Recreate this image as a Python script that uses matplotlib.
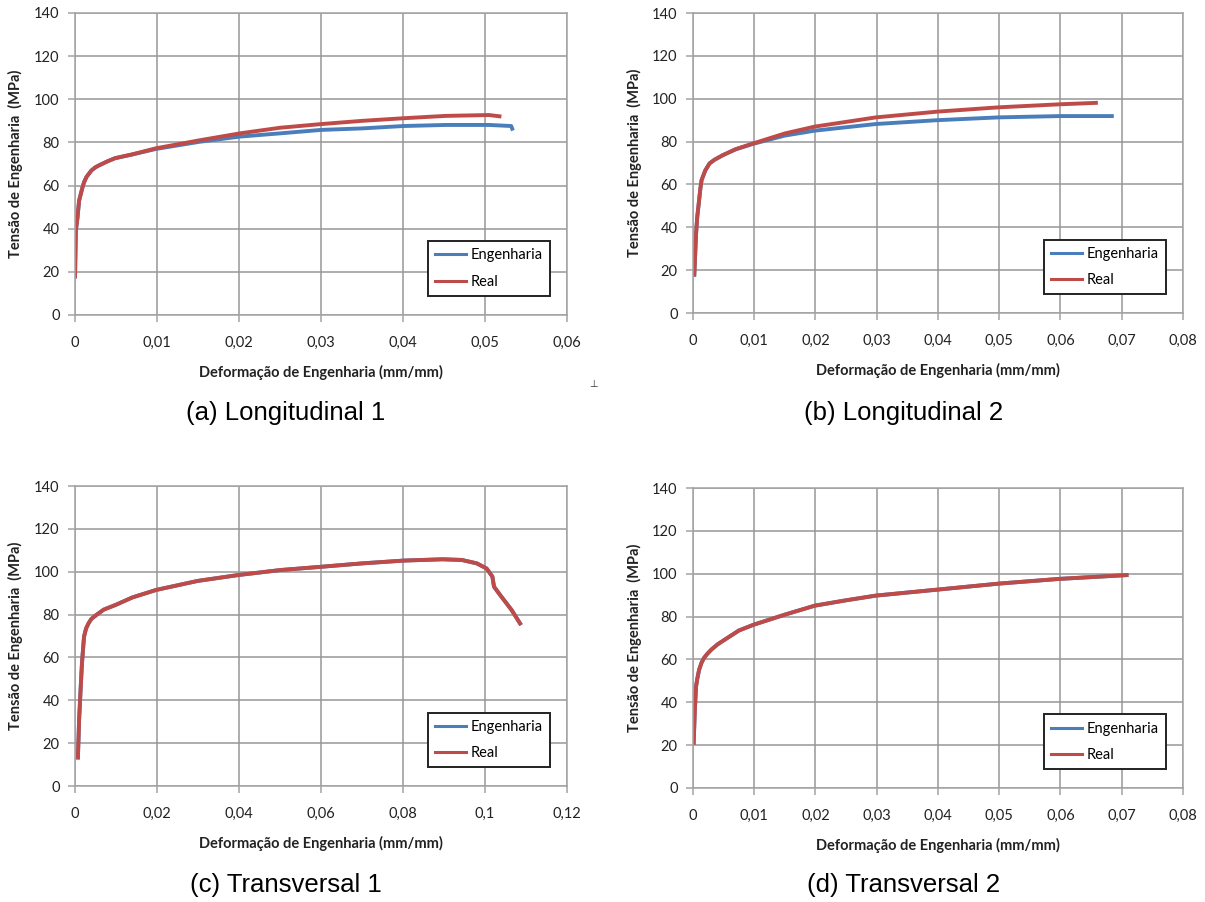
import matplotlib
matplotlib.use('Agg')
import matplotlib.pyplot as plt
from matplotlib.lines import Line2D

BLUE = '#4a7ebb'
RED = '#be4b48'

# ---- (a) Longitudinal 1 ----
a_real_x = [0, 0.0001, 0.0003, 0.0005, 0.0007, 0.0009, 0.0011, 0.0014, 0.002, 0.0025, 0.003,
            0.004, 0.0049, 0.007, 0.0099, 0.0152, 0.0201, 0.025, 0.030, 0.035, 0.040,
            0.0452, 0.0505, 0.052]
a_real_y = [17, 39, 45, 53, 56, 59, 61.5, 64, 67, 68.5, 69.5, 71.3, 72.7, 74.5, 77.3, 81,
            84.2, 86.8, 88.5, 90, 91.2, 92.3, 92.7, 92]
a_eng_x = [0, 0.0001, 0.0003, 0.0005, 0.0007, 0.0009, 0.0011, 0.0014, 0.002, 0.0025, 0.003,
           0.004, 0.0049, 0.007, 0.0099, 0.0152, 0.0201, 0.025, 0.030, 0.035, 0.040,
           0.0452, 0.0505, 0.0532, 0.0534]
a_eng_y = [17, 39, 45, 53, 56, 59, 61.5, 64, 67, 68.5, 69.5, 71.3, 72.7, 74.4, 77.0, 80.3,
           82.7, 84.2, 85.8, 86.5, 87.6, 88.1, 88.1, 87.6, 85.5]

# ---- (b) Longitudinal 2 ----
b_real_x = [0.0002, 0.0005, 0.0007, 0.001, 0.0012, 0.0014, 0.002, 0.0027, 0.0035, 0.0049,
            0.007, 0.0099, 0.015, 0.0199, 0.0299, 0.040, 0.050, 0.0599, 0.0661]
b_real_y = [17, 37, 45, 52.7, 58, 62, 66.5, 69.8, 71.5, 73.7, 76.5, 79.2, 83.8, 87, 91.3,
            94, 96, 97.4, 98.1]
b_eng_x = [0.0002, 0.0005, 0.0007, 0.001, 0.0012, 0.0014, 0.002, 0.0027, 0.0035, 0.0049,
           0.007, 0.0099, 0.015, 0.0199, 0.0299, 0.040, 0.050, 0.0599, 0.0687]
b_eng_y = [17, 37, 45, 52.7, 58, 62, 66.5, 69.8, 71.5, 73.7, 76.4, 79.0, 82.8, 85.1, 88.2,
           90, 91.3, 91.9, 91.9]

# ---- (c) Transversal 1 ----
c_x = [0.0007, 0.001, 0.0014, 0.0017, 0.0022, 0.0027, 0.0033, 0.004, 0.0052, 0.007, 0.0099,
       0.014, 0.0198, 0.0299, 0.040, 0.0502, 0.060, 0.0701, 0.0802, 0.0896, 0.0943, 0.098,
       0.1004, 0.1018, 0.1022, 0.1037, 0.1065, 0.1088]
c_y = [12.4, 30.8, 46.3, 57.3, 69.7, 73.5, 75.9, 78, 79.8, 82.3, 84.5, 88, 91.5, 95.7, 98.5,
       100.8, 102.3, 103.9, 105.2, 105.8, 105.5, 103.9, 101.5, 97.7, 93, 89.1, 82.1, 75.1]

# ---- (d) Transversal 2 ----
d_x = [0.0001, 0.0003, 0.0005, 0.0007, 0.001, 0.0014, 0.0018, 0.0023, 0.003, 0.004, 0.0056,
       0.0075, 0.0099, 0.015, 0.0199, 0.025, 0.0299, 0.040, 0.050, 0.0599, 0.0711]
d_y = [20.2, 36.5, 47.4, 51, 55.2, 58.5, 60.7, 62.5, 64.6, 67, 70, 73.5, 76.2, 80.9, 85.1,
       87.6, 89.8, 92.6, 95.4, 97.6, 99.4]

y_ticks = [0, 20, 40, 60, 80, 100, 120, 140]
x_ticks_a = [0, 0.01, 0.02, 0.03, 0.04, 0.05, 0.06]
x_labels_a = ['0', '0,01', '0,02', '0,03', '0,04', '0,05', '0,06']
x_ticks_b = [0, 0.01, 0.02, 0.03, 0.04, 0.05, 0.06, 0.07, 0.08]
x_labels_b = ['0', '0,01', '0,02', '0,03', '0,04', '0,05', '0,06', '0,07', '0,08']
x_ticks_c = [0, 0.02, 0.04, 0.06, 0.08, 0.1, 0.12]
x_labels_c = ['0', '0,02', '0,04', '0,06', '0,08', '0,1', '0,12']

captions = ['(a) Longitudinal 1', '(b) Longitudinal 2', '(c) Transversal 1', '(d) Transversal 2']

XLABEL = 'Deformação de Engenharia (mm/mm)'
YLABEL = 'Tensão de Engenharia  (MPa)'

plt.rcParams['font.family'] = ['Lato', 'DejaVu Sans']

fig = plt.figure(figsize=(12.05, 9.02), dpi=100)


def panel(rect, eng, real, xticks, xlabels):
    ax = fig.add_axes(rect)
    ax.plot(eng[0], eng[1], color=BLUE, lw=2.8, solid_capstyle='butt')
    ax.plot(real[0], real[1], color=RED, lw=2.8, solid_capstyle='butt')
    ax.set_xlim(xticks[0], xticks[-1])
    ax.set_ylim(0, 140)
    ax.set_xticks(xticks)
    ax.set_xticklabels(xlabels)
    ax.set_yticks(y_ticks)
    ax.grid(True, color='#979797', lw=1.1)
    ax.set_axisbelow(True)
    for s in ax.spines.values():
        s.set_color('#a3a3a3')
        s.set_linewidth(1.1)
    ax.tick_params(axis='x', length=5, width=1.1, color='#a3a3a3', pad=10,
                   labelsize=10.5, labelcolor='#222222')
    ax.tick_params(axis='y', length=5, width=1.1, color='#a3a3a3', pad=6,
                   labelsize=10.5, labelcolor='#222222')
    ax.set_xlabel(XLABEL, fontsize=10.5, fontweight='bold', color='#222222', va='center')
    ax.set_ylabel(YLABEL, fontsize=10.5, fontweight='bold', color='#222222', va='center')
    ax.xaxis.set_label_coords(0.5, -0.19)
    ax.yaxis.set_label_coords(-0.12, 0.5)
    handles = [Line2D([], [], color=BLUE, lw=2.2), Line2D([], [], color=RED, lw=2.2)]
    leg = ax.legend(handles, ['Engenharia', 'Real'], loc='upper right',
                    bbox_to_anchor=(0.965, 0.245), fontsize=10.5, borderpad=0.5,
                    labelspacing=0.85, handlelength=2.1, handletextpad=0.3,
                    fancybox=False, framealpha=1, borderaxespad=0)
    leg.get_frame().set_edgecolor('#222222')
    leg.get_frame().set_linewidth(1.4)
    return ax


panel([0.06224, 0.65078, 0.4083, 0.33481], (a_eng_x, a_eng_y), (a_real_x, a_real_y),
      x_ticks_a, x_labels_a)
panel([0.5751, 0.65299, 0.40664, 0.33259], (b_eng_x, b_eng_y), (b_real_x, b_real_y),
      x_ticks_b, x_labels_b)
panel([0.06224, 0.1286, 0.4083, 0.33259], (c_x, c_y), (c_x, c_y),
      x_ticks_c, x_labels_c)
panel([0.5751, 0.12639, 0.40664, 0.33259], (d_x, d_y), (d_x, d_y),
      x_ticks_b, x_labels_b)

cap_pos = [(286, 413), (904, 413), (286, 885), (904, 885)]
for (px, py), txt in zip(cap_pos, captions):
    fig.text(px / 1205, 1 - py / 902, txt, ha='center', va='center',
             fontsize=18.5, family='Liberation Sans', color='black')

fig.text(593 / 1205, 1 - 384 / 902, '⊥', ha='center', va='center', fontsize=7,
         family='DejaVu Sans', color='#333333')

fig.savefig('out.png', dpi=100)
